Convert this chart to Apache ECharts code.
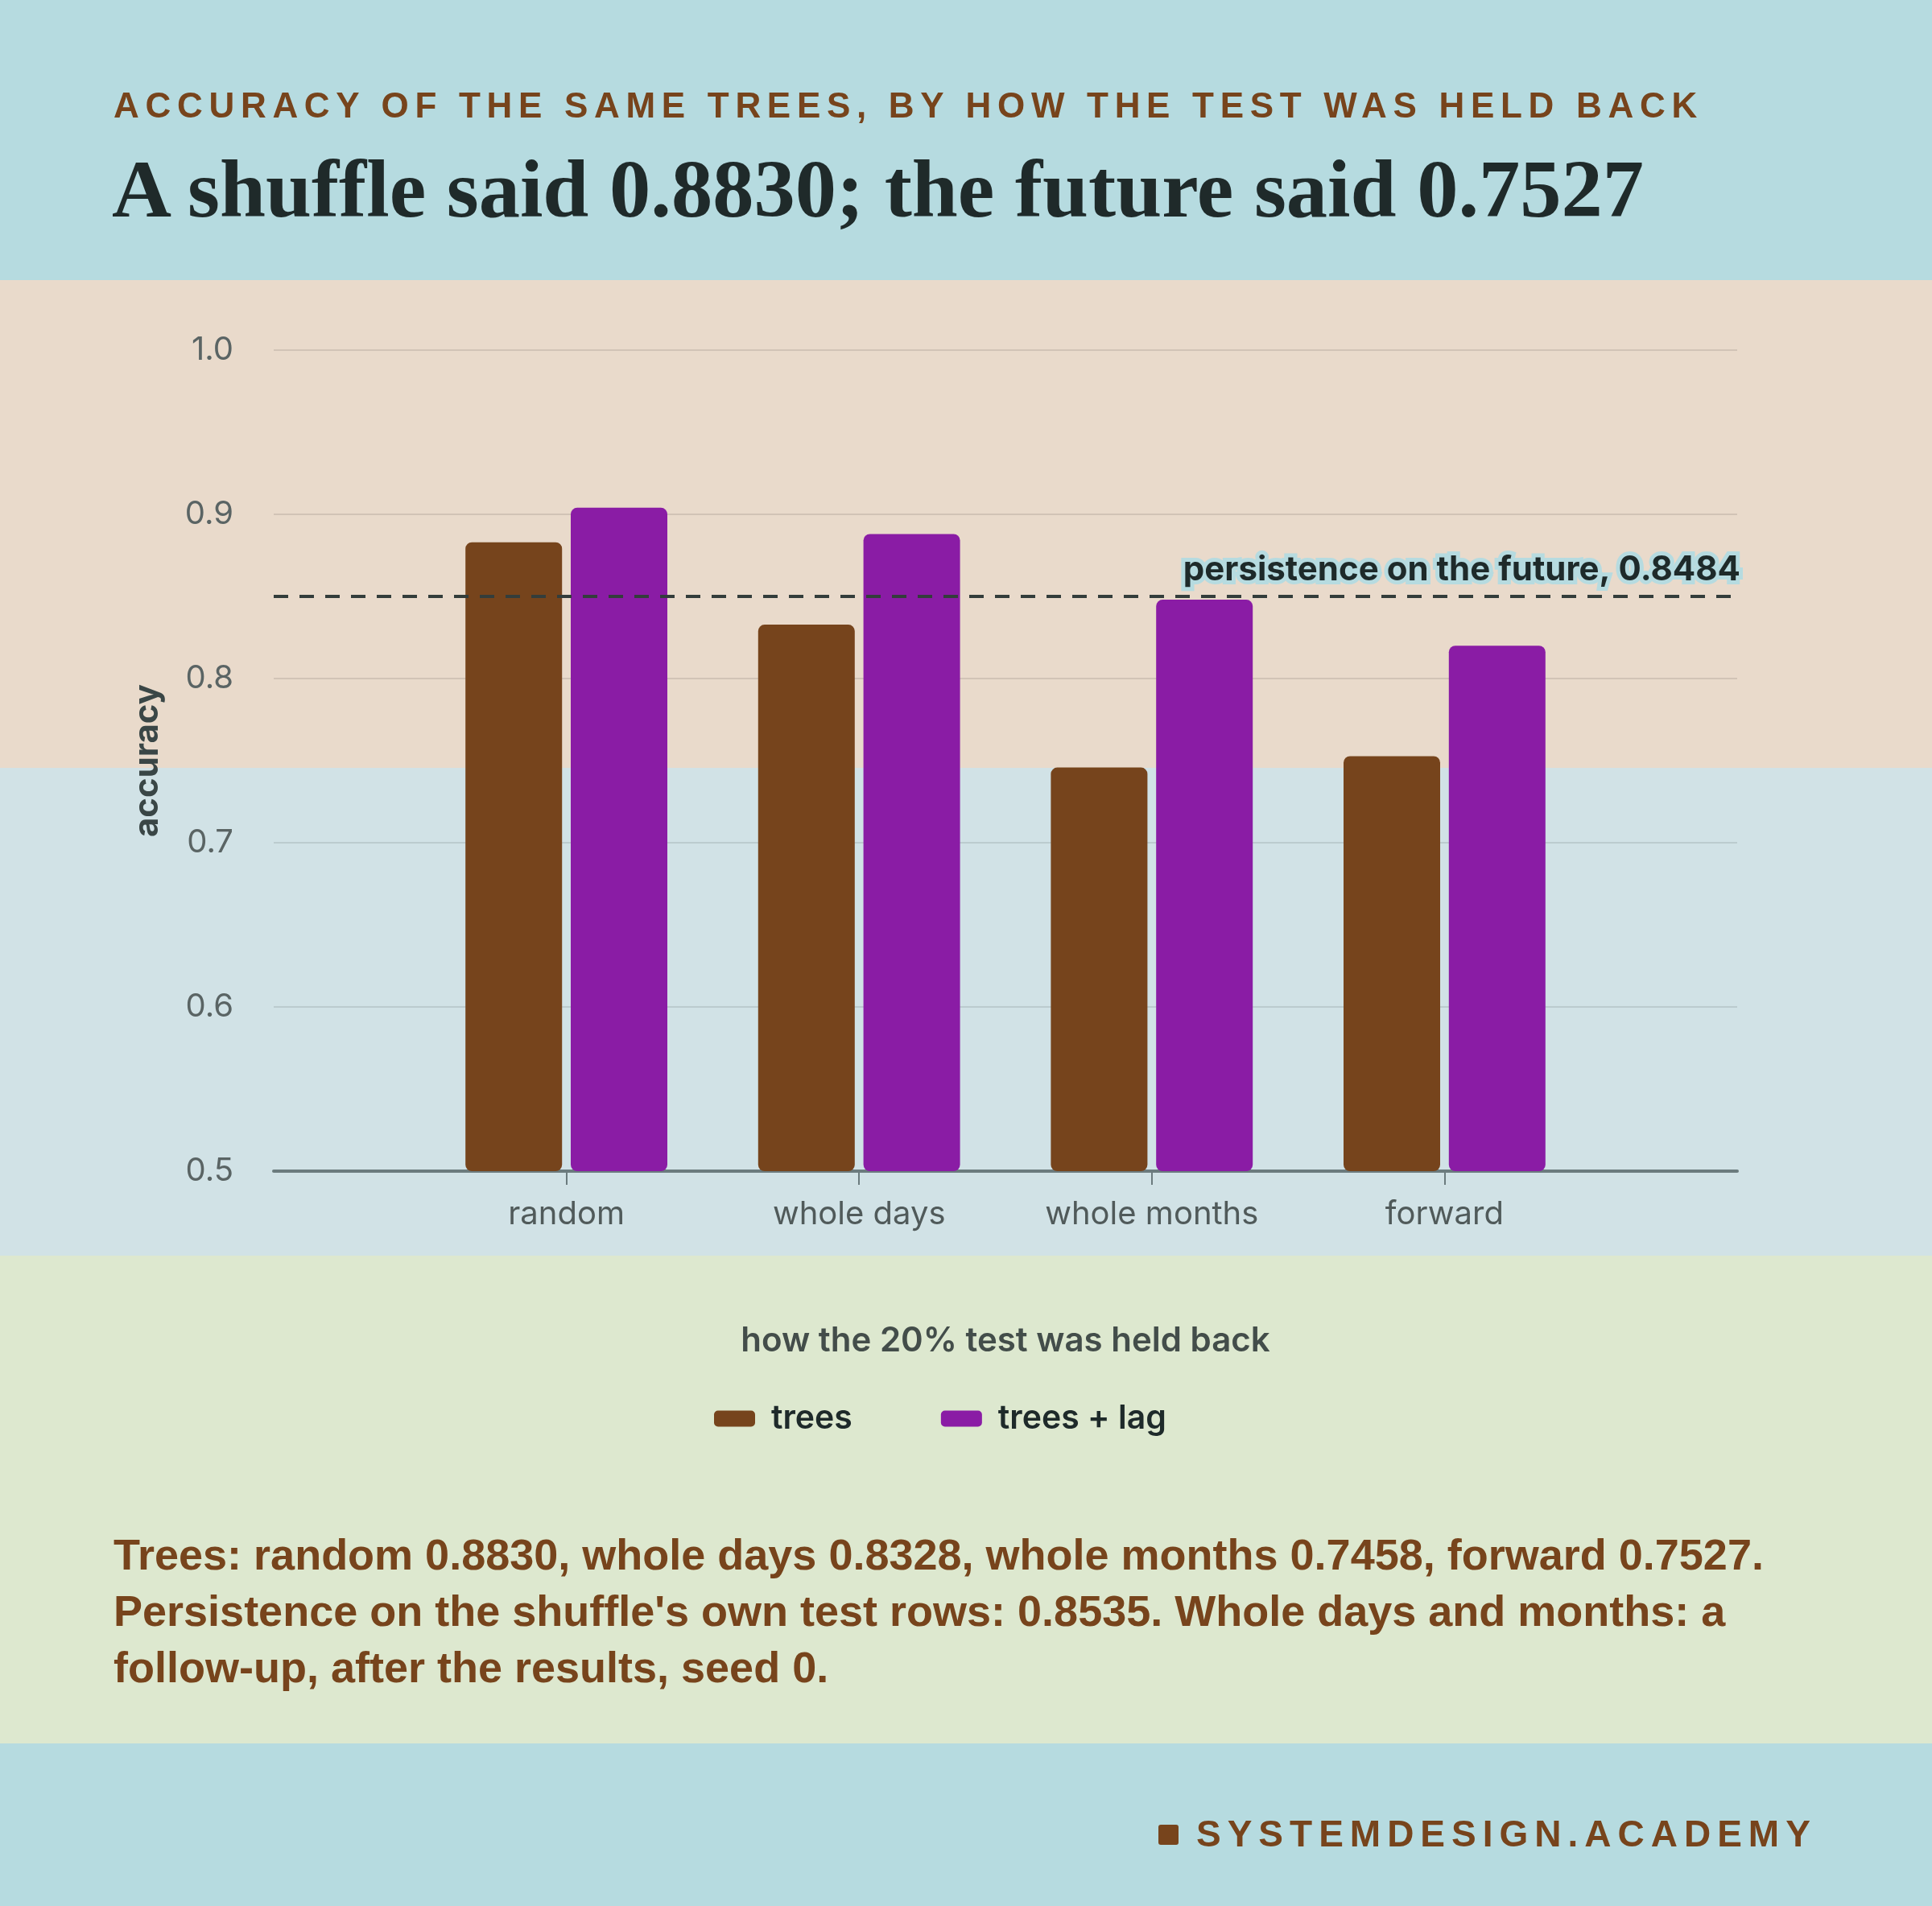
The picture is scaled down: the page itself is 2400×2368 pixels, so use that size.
<!DOCTYPE html>
<html>
<head>
<meta charset="utf-8">
<title>Accuracy by hold-out</title>
<script src="https://cdn.jsdelivr.net/npm/echarts@6/dist/echarts.min.js"></script>
<style>
    body { margin: 0; }
    #page { position: relative; width: 2400px; height: 2368px; overflow: hidden; }
    .band { position: absolute; left: 0; width: 2400px; }
    #main { position: absolute; left: 0; top: 0; width: 2400px; height: 2368px; }
    .txt { position: absolute; white-space: nowrap; }
    #kicker { left: 141px; top: 109px; font: bold 44px/44px "Liberation Sans", Arial, sans-serif; letter-spacing: 7.7px; color: #77441c; }
    #headline { left: 139px; top: 184px; font: bold 102.5px/102.5px "Liberation Serif", serif; color: #1f2a2a; }
    #note { left: 141px; top: 1896px; font: bold 54px/70px "Liberation Sans", Arial, sans-serif; color: #77441c; }
    #brand { left: 1486px; top: 2255px; font: bold 46px/46px "Liberation Sans", Arial, sans-serif; letter-spacing: 8px; color: #77441c; }
    #brandMark { position: absolute; left: 1439px; top: 2267px; width: 25px; height: 25px; border-radius: 3px; background: #77441c; }
</style>
</head>
<body>
<div id="page">
    <div class="band" style="top:0;height:348px;background:#b6dbe0"></div>
    <div class="band" style="top:348px;height:606px;background:#e9dacb"></div>
    <div class="band" style="top:954px;height:606px;background:#d1e2e6"></div>
    <div class="band" style="top:1560px;height:606px;background:#dde8cf"></div>
    <div class="band" style="top:2166px;height:202px;background:#b6dbe0"></div>
    <div id="main"></div>
    <div class="txt" id="kicker">ACCURACY OF THE SAME TREES, BY HOW THE TEST WAS HELD BACK</div>
    <div class="txt" id="headline">A shuffle said 0.8830; the future said 0.7527</div>
    <div class="txt" id="note">Trees: random 0.8830, whole days 0.8328, whole months 0.7458, forward 0.7527.<br>Persistence on the shuffle's own test rows: 0.8535. Whole days and months: a<br>follow-up, after the results, seed 0.</div>
    <div id="brandMark"></div>
    <div class="txt" id="brand">SYSTEMDESIGN.ACADEMY</div>
</div>
<script>
var categories = ['random', 'whole days', 'whole months', 'forward'];
var treesValues = [0.8830, 0.8328, 0.7458, 0.7527];
var lagValues = [0.904, 0.888, 0.848, 0.820];
var persistenceFuture = 0.8484;
var yMin = 0.5, yMax = 1.0, yStep = 0.1;

// empty slots at both ends so the 4 groups sit at 1/5 steps of the axis
var xData = [''].concat(categories).concat(['']);
function padded(arr) {
    return ['-'].concat(arr).concat(['-']);
}
function notEmpty(index, value) {
    return value !== '';
}

var myChart = echarts.init(document.getElementById('main'));
var option = {
    textStyle: { fontFamily: 'Inter' },
    animation: false,
    grid: {
        left: 340,
        right: 242,
        top: 435,
        bottom: 913
    },
    legend: {
        left: 882,
        top: 1737,
        icon: 'roundRect',
        itemWidth: 51,
        itemHeight: 20,
        itemGap: 110,
        textStyle: {
            fontFamily: 'Inter',
            fontSize: 41,
            fontWeight: 600,
            color: '#1e2a2a',
            padding: [0, 0, 0, 15]
        },
        data: ['trees', 'trees + lag']
    },
    xAxis: {
        type: 'category',
        boundaryGap: false,
        data: xData,
        name: 'how the 20% test was held back',
        nameLocation: 'middle',
        nameGap: 190,
        nameTextStyle: {
            fontFamily: 'Inter',
            fontSize: 42,
            fontWeight: 600,
            color: '#434d4a'
        },
        axisLine: { lineStyle: { color: '#6b7b7e', width: 4 } },
        axisTick: {
            interval: notEmpty,
            length: 17,
            lineStyle: { color: '#6b7b7e', width: 2 }
        },
        axisLabel: {
            interval: notEmpty,
            margin: 34,
            fontFamily: 'Inter',
            fontSize: 40,
            color: '#505a5a'
        },
        splitLine: { show: false }
    },
    yAxis: {
        type: 'value',
        min: yMin,
        max: yMax,
        interval: yStep,
        name: 'accuracy',
        nameLocation: 'middle',
        nameGap: 136,
        nameTextStyle: {
            fontFamily: 'Inter',
            fontSize: 42,
            fontWeight: 'bold',
            color: '#3a4646'
        },
        axisLine: { show: false },
        axisTick: { show: false },
        axisLabel: {
            margin: 50,
            fontFamily: 'Inter',
            fontSize: 40,
            color: '#5a6464',
            formatter: function (v) { return v.toFixed(1); }
        },
        splitLine: { lineStyle: { color: 'rgba(0,0,0,0.1)', width: 2 } }
    },
    series: [
        {
            name: 'trees',
            type: 'bar',
            barWidth: 120,
            barGap: '9%',
            itemStyle: { color: '#76441c', borderRadius: 8 },
            data: padded(treesValues),
            markLine: {
                silent: true,
                symbol: 'none',
                lineStyle: { color: '#333d3b', width: 4, type: [18, 14] },
                label: {
                    position: 'insideEndTop',
                    distance: [-4, 12],
                    formatter: 'persistence on the future, ' + persistenceFuture.toFixed(4),
                    fontFamily: 'Inter',
                    fontSize: 42,
                    fontWeight: 'bold',
                    color: '#1e2a2a',
                    textBorderColor: '#b6dbe0',
                    textBorderWidth: 10
                },
                data: [{ yAxis: persistenceFuture }]
            }
        },
        {
            name: 'trees + lag',
            type: 'bar',
            barWidth: 120,
            barGap: '9%',
            itemStyle: { color: '#8a1ca5', borderRadius: 8 },
            data: padded(lagValues)
        }
    ]
};
myChart.setOption(option);
</script>
</body>
</html>
